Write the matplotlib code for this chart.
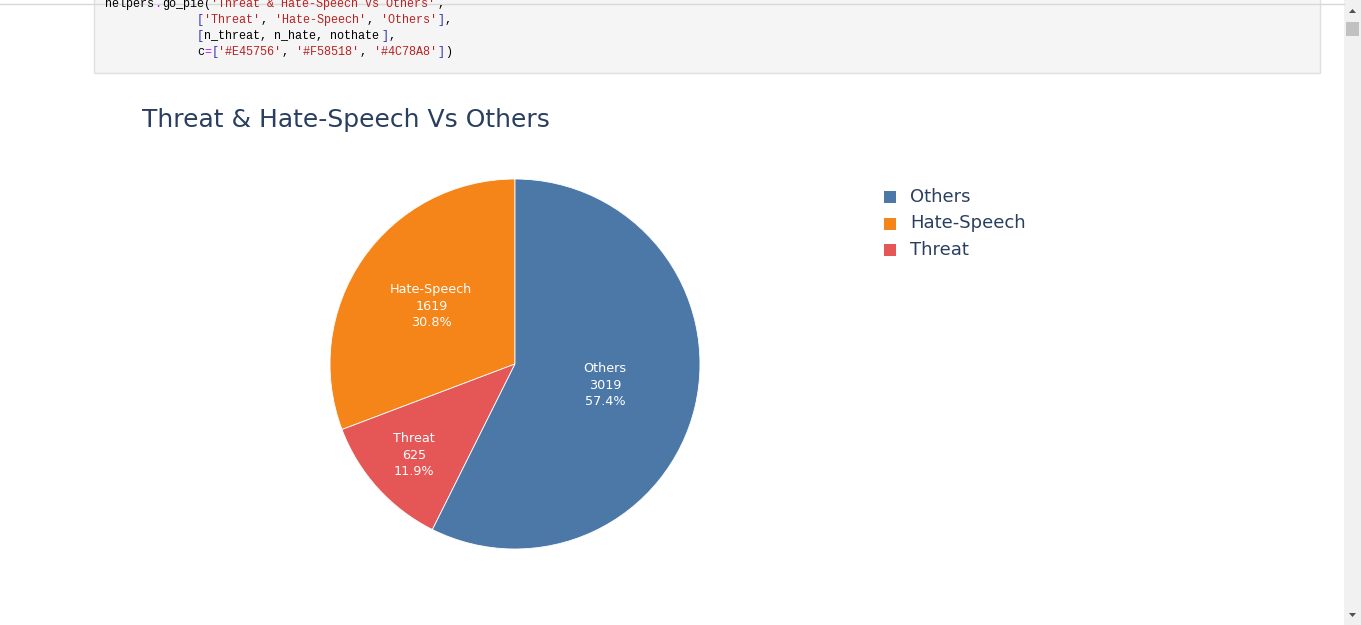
import matplotlib
matplotlib.use("Agg")
import matplotlib.pyplot as plt
from matplotlib.patches import Rectangle, Polygon
import numpy as np

# data
labels = ['Hate-Speech', 'Threat', 'Others']
counts = [1619, 625, 3019]
colors = ['#F58518', '#E45756', '#4C78A8']
legend_order = ['Others', 'Hate-Speech', 'Threat']
title = 'Threat & Hate-Speech Vs Others'

indent = ' ' * 13
code_lines = [
    [("helpers", '#000000'), (".", '#AA22FF'), ("go_pie(", '#000000'),
     ("'Threat & Hate-Speech Vs Others'", '#BA2121'), (",", '#000000')],
    [(indent, '#000000'), ("[", '#3333aa'), ("'Threat'", '#BA2121'), (", ", '#000000'),
     ("'Hate-Speech'", '#BA2121'), (", ", '#000000'), ("'Others'", '#BA2121'),
     ("]", '#3333aa'), (",", '#000000')],
    [(indent, '#000000'), ("[", '#3333aa'), ("n_threat, n_hate, nothate", '#000000'),
     ("]", '#3333aa'), (",", '#000000')],
    [(indent, '#000000'), ("c", '#000000'), ("=", '#AA22FF'), ("[", '#3333aa'),
     ("'#E45756'", '#BA2121'), (", ", '#000000'), ("'#F58518'", '#BA2121'), (", ", '#000000'),
     ("'#4C78A8'", '#BA2121'), ("]", '#3333aa'), (")", '#000000')],
]

W, H = 1361, 625
fig = plt.figure(figsize=(W / 100, H / 100), dpi=100)
fig.patch.set_facecolor('white')

# overlay in pixel coords
bg = fig.add_axes([0, 0, 1, 1])
bg.set_xlim(0, W)
bg.set_ylim(H, 0)
bg.axis('off')

# code cell (top line is scrolled off in the notebook)
bg.add_patch(Rectangle((94.5, -5), 1226, 78, facecolor='#f5f5f5', edgecolor='#e0e0e0', lw=1))
bg.plot([0, 1344], [3.5, 3.5], color='#d8d8d8', lw=1)
code_fs = 8.5
char_w = code_fs * 100 / 72 * 0.6
line_y = [4, 20, 36, 52]
for y, parts in zip(line_y, code_lines):
    x = 105
    for txt, col in parts:
        bg.text(x, y, txt, family='Liberation Mono', fontsize=code_fs, color=col,
                va='center', ha='left', clip_on=True)
        x += char_w * len(txt)

# scrollbar
bg.add_patch(Rectangle((1344, 0), 17, H, facecolor='#f1f1f1', edgecolor='none'))
bg.add_patch(Rectangle((1346, 22), 13, 14, facecolor='#c1c1c1', edgecolor='none'))
bg.add_patch(Polygon([(1349, 13), (1356, 13), (1352.5, 9)], closed=True, facecolor='#505050'))
bg.add_patch(Polygon([(1349, 613), (1356, 613), (1352.5, 617)], closed=True, facecolor='#505050'))

# title
bg.text(142, 120, title, fontsize=18, color='#2a3f5f', va='center', ha='left')

# legend
for i, name in enumerate(legend_order):
    y = 197 + i * 26.5
    col = colors[labels.index(name)]
    bg.add_patch(Rectangle((884, y - 6), 12, 12, facecolor=col, edgecolor='none'))
    bg.text(910, y, name, fontsize=13, color='#2a3f5f', va='center', ha='left')

# pie
cx, cy, r = 515, 364, 185
ax = fig.add_axes([(cx - r) / W, (H - cy - r) / H, 2 * r / W, 2 * r / H])
total = sum(counts)
wedges, _ = ax.pie(counts, colors=colors, startangle=90, counterclock=True,
                   wedgeprops=dict(edgecolor='white', linewidth=0.6, clip_on=False))
ax.set_xlim(-1, 1)
ax.set_ylim(-1, 1)
ax.set_aspect('equal')
ax.axis('off')

label_r = [0.55, 0.735, 0.5]
for w, name, n, lr in zip(wedges, labels, counts, label_r):
    ang = np.deg2rad((w.theta1 + w.theta2) / 2)
    ax.text(lr * np.cos(ang), lr * np.sin(ang),
            f"{name}\n{n}\n{100 * n / total:.1f}%",
            color='white', fontsize=9.2, ha='center', va='center', linespacing=1.35)

fig.savefig('out.png', dpi=100)
